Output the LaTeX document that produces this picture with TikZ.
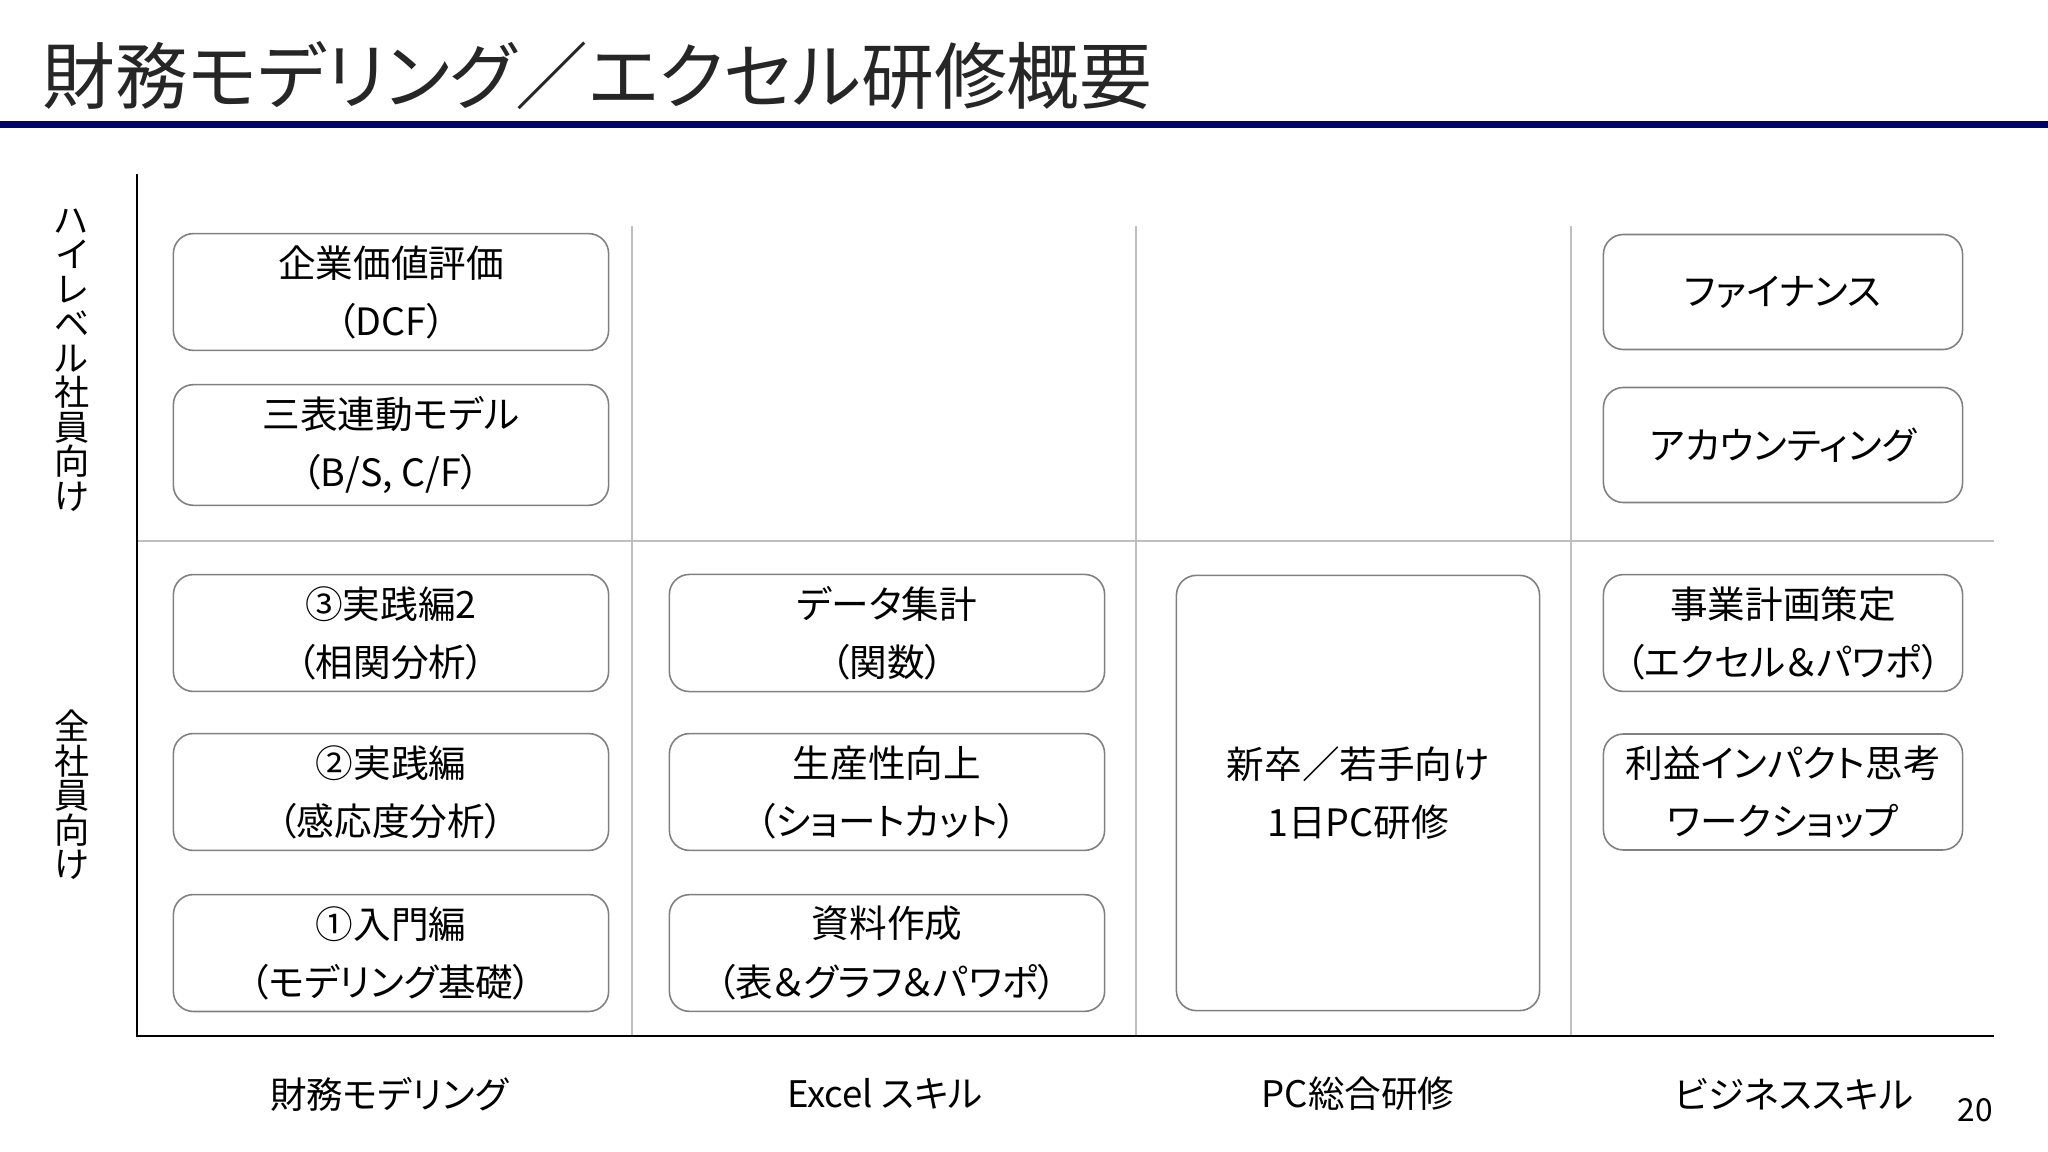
\documentclass[tikz,border=0pt]{standalone}
\usepackage{fontspec}
\setmainfont{Noto Sans CJK JP}[RawFeature=+palt]
\definecolor{barnavy}{HTML}{000066}
\definecolor{boxgray}{HTML}{808080}
\definecolor{gridgray}{HTML}{BFBFBF}
\definecolor{titleink}{HTML}{262626}
\tikzset{
  course/.style={draw=boxgray, line width=0.45pt, rounded corners=0.2cm,
    align=center, minimum height=1.15cm, font=\fontsize{10.7}{16.5}\selectfont},
  colA/.style={course, minimum width=4.35cm},
  colD/.style={course, minimum width=3.59cm},
  axislabel/.style={font=\fontsize{10.4}{12}\selectfont},
  sidelabel/.style={align=center, inner sep=0, font=\fontsize{10}{9.8}\selectfont},
  divider/.style={draw=gridgray, line width=0.6pt}
}
\begin{document}
\begin{tikzpicture}[x=0.01cm, y=-0.01cm]
  \useasboundingbox (0,0) rectangle (2048,1152);

  % title and bar
  \node[anchor=west, inner sep=0, text=titleink, font=\fontsize{20.7}{24}\selectfont] (title) at (42,76) {財務モデリング／エクセル研修概要};
  \fill[barnavy] (0,121) rectangle (2048,128);

  % frame
  \coordinate (ytop) at (137,174);
  \coordinate (origin) at (137,1036);
  \coordinate (xend) at (1994,1036);
  \draw[divider] (137,541) -- (1994,541);
  \draw[divider] (632,226) -- (632,1036);
  \draw[divider] (1136,226) -- (1136,1036);
  \draw[divider] (1571,226) -- (1571,1036);
  \draw[line width=0.6pt] (ytop) -- (origin) -- (xend);

  % side labels
  \node[sidelabel] (high) at (72,360) {ハ\\イ\\レ\\ベ\\ル\\社\\員\\向\\け};
  \node[sidelabel] (all) at (72,795) {全\\社\\員\\向\\け};

  % financial modelling
  \node[colA] (dcf) at (391,292) {企業価値評価\\（DCF）};
  \node[colA] (three) at (391,445) {三表連動モデル\\（B/S, C/F）};
  \node[colA] (prac2) at (391,633) {③実践編2\\（相関分析）};
  \node[colA] (prac) at (391,792) {②実践編\\（感応度分析）};
  \node[colA] (intro) at (391,953) {①入門編\\（モデリング基礎）};

  % excel
  \node[colA] (agg) at (887,633) {データ集計\\（関数）};
  \node[colA] (speed) at (887,792) {生産性向上\\（ショートカット）};
  \node[colA] (docs) at (887,953) {資料作成\\（表＆グラフ＆パワポ）};

  % pc
  \node[course, minimum width=3.63cm, minimum height=4.35cm] (pc) at (1358,793) {新卒／若手向け\\1日PC研修};

  % business
  \node[colD] (fin) at (1783,292) {ファイナンス};
  \node[colD] (acc) at (1783,445) {アカウンティング};
  \node[colD] (plan) at (1783,633) {事業計画策定\\（エクセル＆パワポ）};
  \node[colD] (impact) at (1783,792) {利益インパクト思考\\ワークショップ};

  % axis labels
  \node[axislabel] (lfm) at (389,1094) {財務モデリング};
  \node[axislabel] (lxl) at (885,1094) {Excel スキル};
  \node[axislabel] (lpc) at (1358,1094) {PC総合研修};
  \node[axislabel] (lbiz) at (1794,1094) {ビジネススキル};
  \node[font=\fontsize{9}{11}\selectfont] (page) at (1975,1110) {20};
\end{tikzpicture}
\end{document}
